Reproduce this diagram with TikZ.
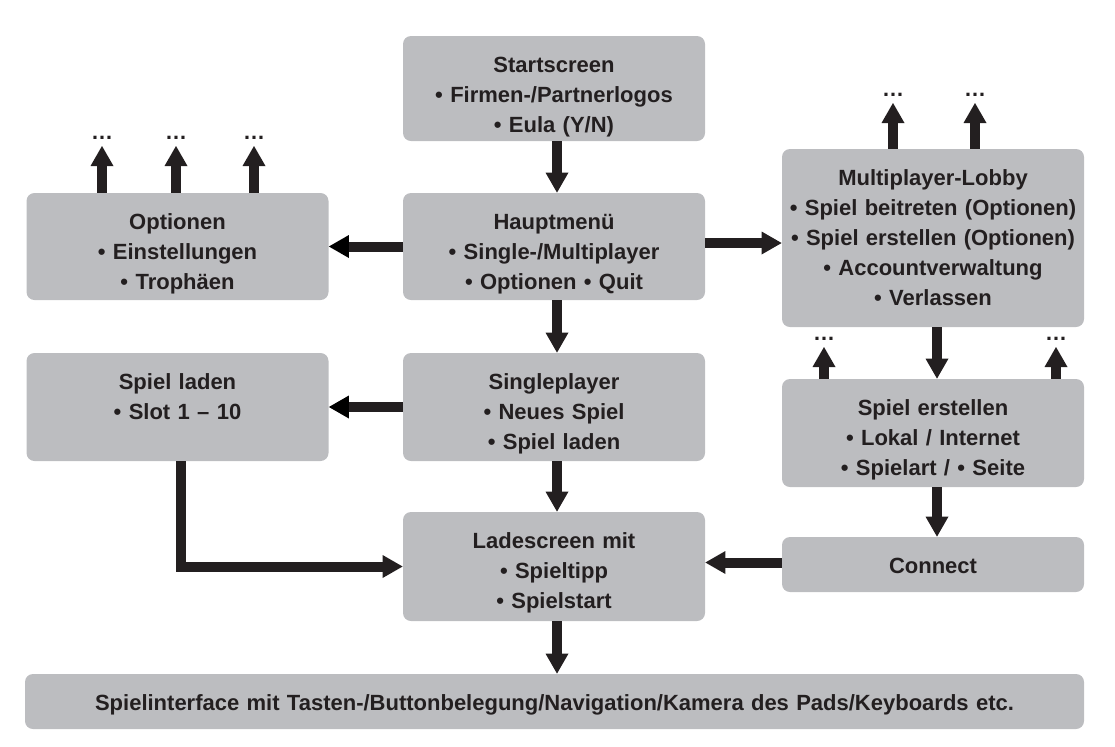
\documentclass[tikz,border=0pt]{standalone}
\usepackage{fontspec}
\setmainfont{Liberation Sans}
\usetikzlibrary{arrows.meta}
\definecolor{boxgray}{RGB}{188,189,192}
\definecolor{inkblack}{RGB}{35,31,32}

\begin{document}
\begin{tikzpicture}[x=0.5pt,y=-0.5pt,
           box_style/.style={rectangle,rounded corners=4pt,fill=boxgray,text=inkblack,align=center,
                             text width=151pt,text height=18pt,text depth=36pt,inner sep=0pt,
                             font=\bfseries\fontsize{11}{15}\selectfont},
           dots_style/.style={anchor=south,inner xsep=0pt,inner ysep=3pt,text=inkblack,
                              font=\bfseries\fontsize{11}{13}\selectfont},
           arrow_style/.style={draw=inkblack,line width=5pt,
                               -{Triangle[width=11.5pt,length=10pt,line width=0pt]}}]
            \useasboundingbox (0,0) rectangle (1115,746);
            % boxes
            \node[box_style,text depth=34.5pt] (start) at (554, 88.5) {Startscreen\\• Firmen-/Partnerlogos\\• Eula (Y/N)};
            \node[box_style,text depth=35.5pt] (opt) at (177.5, 246.5) {Optionen\\• Einstellungen\\• Trophäen};
            \node[box_style,text depth=35.5pt] (haupt) at (554, 246.5) {Hauptmenü\\• Single-/Multiplayer\\• Optionen • Quit};
            \node[box_style,text depth=71pt] (multi) at (933, 238) {Multiplayer-Lobby\\• Spiel beitreten (Optionen)\\• Spiel erstellen (Optionen)\\• Accountverwaltung\\• Verlassen};
            \node[box_style] (laden) at (177.5, 407) {Spiel laden\\• Slot 1 – 10};
            \node[box_style] (single) at (554, 407) {Singleplayer\\• Neues Spiel\\• Spiel laden};
            \node[box_style] (erst) at (933, 433) {Spiel erstellen\\• Lokal / Internet\\• Spielart / • Seite};
            \node[box_style,text depth=36.5pt] (lade) at (554, 566.5) {Ladescreen mit\\• Spieltipp\\• Spielstart};
            \node[box_style,text depth=9.5pt] (conn) at (933, 564.5) {Connect};
            \node[box_style,text depth=9.5pt,text width=529.5pt] (interf) at (554.5, 701.5) {Spielinterface mit Tasten-/Buttonbelegung/Navigation/Kamera des Pads/Keyboards etc.};
            % open ends
            \node[dots_style] (d_opt1) at (102, 146) {…};
            \node[dots_style] (d_opt2) at (176, 146) {…};
            \node[dots_style] (d_opt3) at (254, 146) {…};
            \node[dots_style] (d_multi1) at (893, 103) {…};
            \node[dots_style] (d_multi2) at (975, 103) {…};
            \node[dots_style] (d_erst1) at (824, 347) {…};
            \node[dots_style] (d_erst2) at (1056, 347) {…};
            % arrows
            \draw[arrow_style] ([xshift=1.5pt]start.south) -- ([xshift=1.5pt]haupt.north);
            \draw[arrow_style] (haupt) edge (opt);
            \draw[arrow_style] ([yshift=1.75pt]haupt.east) -- ([yshift=1.75pt]haupt.east -| multi.west);
            \draw[arrow_style] ([xshift=1.5pt]haupt.south) -- ([xshift=1.5pt]single.north);
            \draw[arrow_style] (single) edge (laden);
            \draw[arrow_style] ([xshift=1.5pt]single.south) -- ([xshift=1.5pt]lade.north);
            \draw[arrow_style] ([xshift=1.5pt]laden.south) |- (lade);
            \draw[arrow_style] ([xshift=1.5pt]lade.south) -- ([xshift=1.5pt]lade.south |- interf.north);
            \draw[arrow_style] ([xshift=2pt]multi.south) -- ([xshift=2pt]erst.north);
            \draw[arrow_style] ([xshift=2pt]erst.south) -- ([xshift=2pt]conn.north);
            \draw[arrow_style] ([yshift=1pt]conn.west) -- ([yshift=1pt]conn.west -| lade.east);
            \draw[arrow_style] (opt.north -| d_opt1) -- (d_opt1);
            \draw[arrow_style] (opt.north -| d_opt2) -- (d_opt2);
            \draw[arrow_style] (opt.north -| d_opt3) -- (d_opt3);
            \draw[arrow_style] (multi.north -| d_multi1) -- (d_multi1);
            \draw[arrow_style] (multi.north -| d_multi2) -- (d_multi2);
            \draw[arrow_style] (erst.north -| d_erst1) -- (d_erst1);
            \draw[arrow_style] (erst.north -| d_erst2) -- (d_erst2);
        \end{tikzpicture}
\end{document}
